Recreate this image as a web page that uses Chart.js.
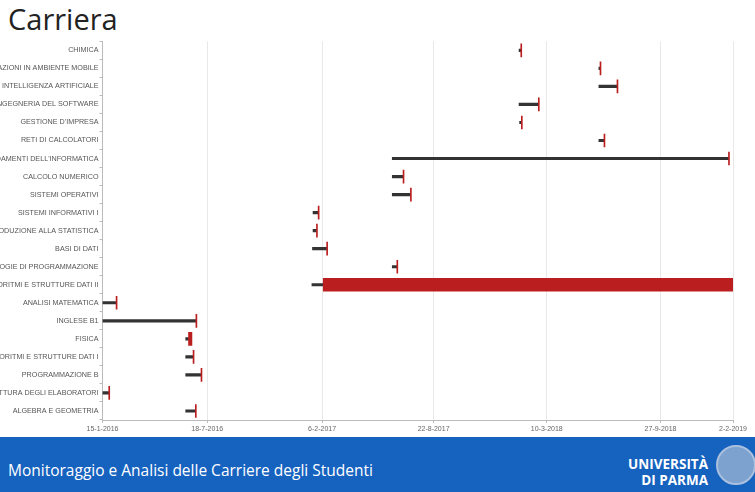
<!DOCTYPE html>
<html>
<head>
<meta charset="utf-8">
<script src="https://cdn.jsdelivr.net/npm/chart.js@4.4.0/dist/chart.umd.min.js"></script>
<style>
  body { margin: 0; width: 755px; height: 492px; overflow: hidden; background: #fff; position: relative; }
  #title { position: absolute; left: 8px; top: -1px; font-family: "Open Sans", sans-serif; font-size: 29px; color: #222; }
  #gantt { position: absolute; left: 0; top: 36px; }
  #footer { position: absolute; left: 0; top: 437px; width: 755px; height: 55px; background: #1662bf; }
  #footer .txt { position: absolute; left: 8px; top: 22px; font-family: "Open Sans", sans-serif; font-size: 15.5px; color: #fff; }
  #footer .uni { position: absolute; right: 47px; top: 19px; font-family: "Open Sans", sans-serif; font-weight: bold; font-size: 13.5px; line-height: 16px; color: #fff; text-align: right; }
  #footer .seal { position: absolute; left: 716px; top: 8px; width: 40px; height: 40px; border-radius: 50%; border: 2px solid #a9c0de; background: #7ea2cf; box-sizing: border-box; }
</style>
</head>
<body>
<div id="title">Carriera</div>
<canvas id="gantt" width="755" height="404"></canvas>
<div id="footer">
  <div class="txt">Monitoraggio e Analisi delle Carriere degli Studenti</div>
  <div class="uni">UNIVERSITÀ<br>DI PARMA</div>
  <div class="seal"></div>
</div>
<script>
// courses, top to bottom
const courses = [
    'CHIMICA',
    'APPLICAZIONI IN AMBIENTE MOBILE',
    'INTELLIGENZA ARTIFICIALE',
    'INGEGNERIA DEL SOFTWARE',
    "GESTIONE D'IMPRESA",
    'RETI DI CALCOLATORI',
    "FONDAMENTI DELL'INFORMATICA",
    'CALCOLO NUMERICO',
    'SISTEMI OPERATIVI',
    'SISTEMI INFORMATIVI I',
    'INTRODUZIONE ALLA STATISTICA',
    'BASI DI DATI',
    'METODOLOGIE DI PROGRAMMAZIONE',
    'ALGORITMI E STRUTTURE DATI II',
    'ANALISI MATEMATICA',
    'INGLESE B1',
    'FISICA',
    'ALGORITMI E STRUTTURE DATI I',
    'PROGRAMMAZIONE B',
    'ARCHITETTURA DEGLI ELABORATORI',
    'ALGEBRA E GEOMETRIA'
];

// black line: start -> end
const startDates = [
    '2018-01-20', '2018-06-10', '2018-06-10', '2018-01-20', '2018-01-21',
    '2018-06-10', '2017-06-10', '2017-06-10', '2017-06-10', '2017-01-21',
    '2017-01-21', '2017-01-20', '2017-06-10', '2017-01-19', '2016-01-15',
    '2016-01-15', '2016-06-10', '2016-06-10', '2016-06-10', '2016-01-15',
    '2016-06-10'
];
const endDates = [
    '2018-01-23', '2018-06-12', '2018-07-12', '2018-02-23', '2018-01-24',
    '2018-06-19', '2019-01-25', '2017-06-29', '2017-07-12', '2017-01-30',
    '2017-01-27', '2017-02-14', '2017-06-18', '2017-02-08', '2016-02-08',
    '2016-06-28', '2016-06-15', '2016-06-23', '2016-07-07', '2016-01-26',
    '2016-06-27'
];
// red mark: end -> redEnd
const redEndDates = [
    '2018-01-23', '2018-06-12', '2018-07-12', '2018-02-23', '2018-01-24',
    '2018-06-19', '2019-01-25', '2017-06-29', '2017-07-12', '2017-01-30',
    '2017-01-27', '2017-02-14', '2017-06-18', '2019-02-02', '2016-02-08',
    '2016-06-28', '2016-06-21', '2016-06-23', '2016-07-07', '2016-01-26',
    '2016-06-27'
];

// x axis tick labels
const tickDates = ['2016-01-15', '2016-07-18', '2017-02-06', '2017-08-22', '2018-03-10', '2018-09-27', '2019-02-02'];

function toMs(s) {
    const p = s.split('-').map(Number);
    return Date.UTC(p[0], p[1] - 1, p[2]);
}
function fmt(ms) {
    const d = new Date(ms);
    return d.getUTCDate() + '-' + (d.getUTCMonth() + 1) + '-' + d.getUTCFullYear();
}

const blackBars = startDates.map((s, i) => [toMs(s), toMs(endDates[i])]);
const redBars = endDates.map((s, i) => [toMs(s), toMs(redEndDates[i])]);

const config = {
    type: 'bar',
    data: {
        labels: courses,
        datasets: [
            {
                data: blackBars,
                backgroundColor: '#333',
                barThickness: 2.5,
                grouped: false,
                order: 2
            },
            {
                data: redBars,
                backgroundColor: '#bb1e1e',
                barThickness: 13,
                minBarLength: 1,
                grouped: false,
                order: 1
            }
        ]
    },
    options: {
        indexAxis: 'y',
        responsive: false,
        animation: false,
        layout: { padding: { top: 2, right: 22, bottom: 0, left: 0 } },
        plugins: { legend: { display: false }, tooltip: { enabled: false } },
        scales: {
            x: {
                type: 'linear',
                min: toMs(tickDates[0]),
                max: toMs(tickDates[tickDates.length - 1]),
                afterBuildTicks: (scale) => {
                    scale.ticks = tickDates.map(d => ({ value: toMs(d) }));
                },
                afterFit: (scale) => { scale.height = 20; },
                ticks: {
                    callback: (v) => fmt(v),
                    font: { family: 'Liberation Sans', size: 7 },
                    color: '#666',
                    padding: 2,
                    maxRotation: 0,
                    autoSkip: false
                },
                grid: { color: '#e8e8e8', tickLength: 3, tickColor: '#bbb' },
                border: { color: '#bbb' }
            },
            y: {
                afterFit: (scale) => { scale.width = 102.5; },
                ticks: {
                    font: { family: 'Liberation Sans', size: 7.2 },
                    color: '#555',
                    padding: 1,
                    autoSkip: false
                },
                grid: { drawOnChartArea: false, tickLength: 3, tickColor: '#bbb' },
                border: { color: '#bbb' }
            }
        }
    }
};

const ganttChart = new Chart(document.getElementById('gantt'), config);
</script>
</body>
</html>
